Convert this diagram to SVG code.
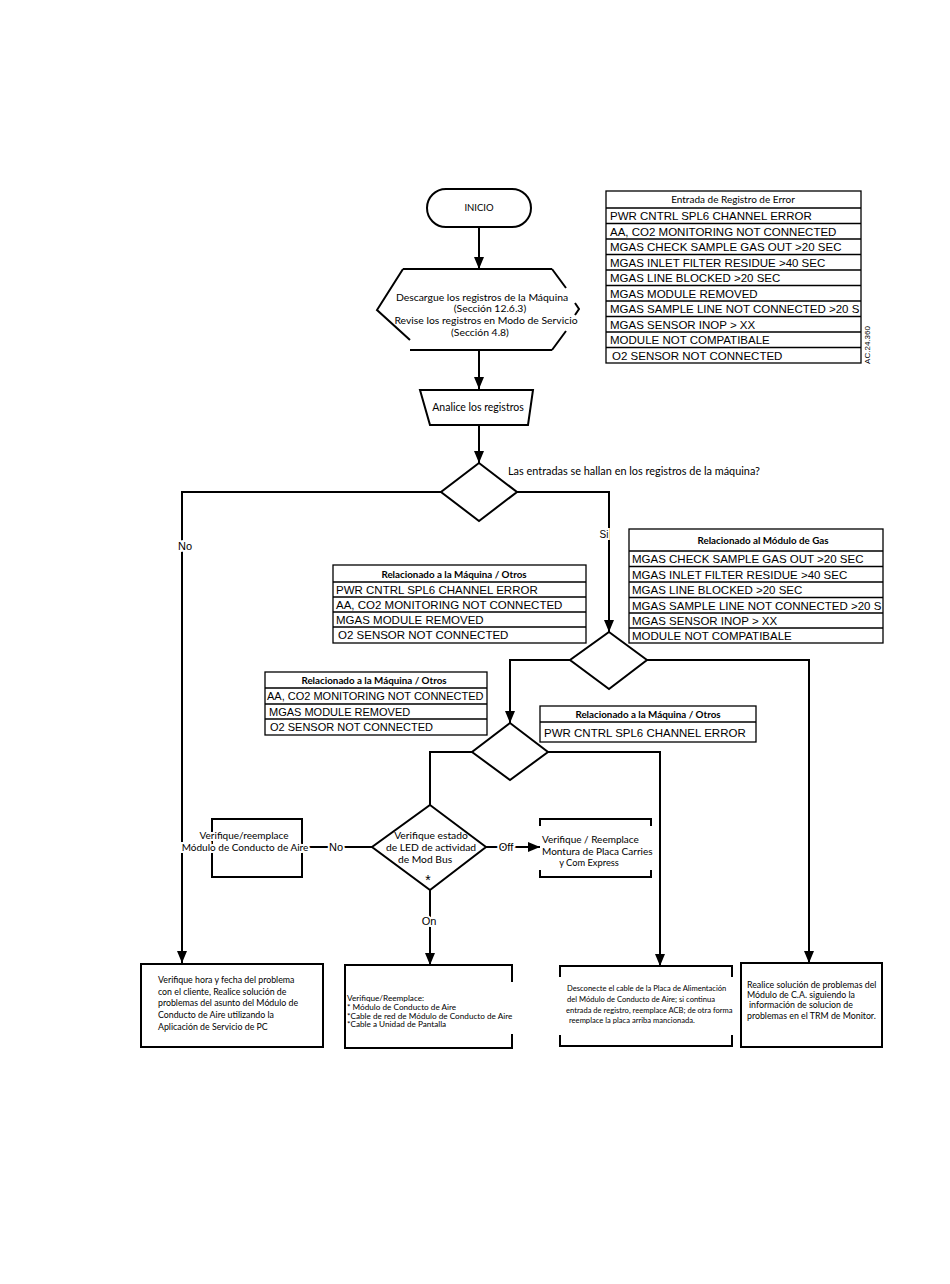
<svg xmlns="http://www.w3.org/2000/svg" width="950" height="1284" viewBox="0 0 950 1284">
<style>
.ln{fill:none;stroke:#000;stroke-width:2}
.bx{fill:#fff;stroke:#000;stroke-width:2}
.tb{fill:#fff;stroke:#000;stroke-width:1.3}
.rl{stroke:#000;stroke-width:1.3}
.c{font-family:Lato,"Liberation Sans",sans-serif;fill:#000}
.a{font-family:"Liberation Sans",Arial,sans-serif;fill:#000}
.t{font-family:"Liberation Sans",Arial,sans-serif;font-size:11.5px;fill:#000}
.t2{font-family:"Liberation Sans",Arial,sans-serif;font-size:11px;fill:#000}
.h{font-family:Lato,"Liberation Sans",sans-serif;font-size:9.8px;font-weight:bold;fill:#000;text-anchor:middle}
.halo{stroke:#fff;stroke-width:4;paint-order:stroke}
</style>
<defs>
<marker id="ar" markerUnits="userSpaceOnUse" markerWidth="12" markerHeight="10" refX="12" refY="5" orient="auto">
<path d="M0,0 L12,5 L0,10 z" fill="#000"/>
</marker>
</defs>
<rect width="950" height="1284" fill="#fff"/>

<g id="connectors">
<path class="ln" d="M479,227 V269" marker-end="url(#ar)"/>
<path class="ln" d="M479,350 V389" marker-end="url(#ar)"/>
<path class="ln" d="M479,425 V463" marker-end="url(#ar)"/>
<path class="ln" d="M441,492 H182 V963" marker-end="url(#ar)"/>
<path class="ln" d="M517,492 H609 V632" marker-end="url(#ar)"/>
<path class="ln" d="M570,660 H510 V723" marker-end="url(#ar)"/>
<path class="ln" d="M647,660 H809 V963" marker-end="url(#ar)"/>
<path class="ln" d="M472,752 H430 V805"/>
<path class="ln" d="M548,752 H660 V966" marker-end="url(#ar)"/>
<path class="ln" d="M372,847 H302"/>
<path class="ln" d="M486,847 H540" marker-end="url(#ar)"/>
<path class="ln" d="M430,890 V965" marker-end="url(#ar)"/>
<text class="a halo" x="185" y="550" font-size="11" text-anchor="middle">No</text>
<text class="a halo" x="604" y="538" font-size="10" text-anchor="middle">Si</text>
<text class="a halo" x="336" y="851" font-size="11" text-anchor="middle">No</text>
<text class="a halo" x="506" y="851" font-size="11" text-anchor="middle">Off</text>
<text class="a halo" x="429" y="925" font-size="11" text-anchor="middle">On</text>
</g>

<g id="inicio">
<rect class="bx" x="427" y="189" width="104" height="38" rx="19"/>
<text class="c" x="479" y="211" font-size="9.5" text-anchor="middle">INICIO</text>
</g>

<g id="descargue">
<path class="ln" d="M403,269 H552 M403,269 L377,310 L410,340 M410,350 H552 M552,269 L566,288 M575,303 L579,309 L575,315 M566,331 L552,350"/>
<text class="c" x="482" y="301" font-size="10.4" text-anchor="middle">Descargue los registros de la Máquina</text>
<text class="c" x="490" y="312" font-size="10.4" text-anchor="middle">(Sección 12.6.3)</text>
<text class="c" x="486" y="324" font-size="10.4" text-anchor="middle">Revise los registros en Modo de Servicio</text>
<text class="c" x="480" y="336" font-size="10.4" text-anchor="middle">(Sección 4.8)</text>
</g>

<g id="analice">
<polygon class="bx" points="420,390 533,390 528,425 430,425"/>
<text class="c" x="478" y="411" font-size="10.5" text-anchor="middle">Analice los registros</text>
</g>

<g id="decision1">
<polygon class="bx" points="479,463 517,492 479,521 441,492"/>
<text class="c" x="508" y="475" font-size="10.9">Las entradas se hallan en los registros de la máquina?</text>
</g>

<g id="tabla-error">
<rect class="tb" x="606" y="191" width="255" height="172"/>
<path class="rl" d="M606,208 H861 M606,223.5 H861 M606,239 H861 M606,254.5 H861 M606,270 H861 M606,285.5 H861 M606,301 H861 M606,316.5 H861 M606,332 H861 M606,347.5 H861"/>
<text class="c" x="733" y="203" font-size="10" text-anchor="middle">Entrada de Registro de Error</text>
<text class="t" x="610" y="220">PWR CNTRL SPL6 CHANNEL ERROR</text>
<text class="t" x="610" y="235.5">AA, CO2 MONITORING NOT CONNECTED</text>
<text class="t" x="610" y="251">MGAS CHECK SAMPLE GAS OUT &gt;20 SEC</text>
<text class="t" x="610" y="266.5">MGAS INLET FILTER RESIDUE &gt;40 SEC</text>
<text class="t" x="610" y="282">MGAS LINE BLOCKED &gt;20 SEC</text>
<text class="t" x="610" y="297.5">MGAS MODULE REMOVED</text>
<text class="t" x="610" y="313">MGAS SAMPLE LINE NOT CONNECTED &gt;20 S</text>
<text class="t" x="610" y="328.5">MGAS SENSOR INOP &gt; XX</text>
<text class="t" x="610" y="344">MODULE NOT COMPATIBALE</text>
<text class="t" x="612" y="359.5">O2 SENSOR NOT CONNECTED</text>
<text class="a" x="870" y="345" font-size="8" text-anchor="middle" transform="rotate(-90 870 345)">AC.24.360</text>
</g>

<g id="tabla-gas">
<rect class="tb" x="629" y="529" width="254" height="114"/>
<path class="rl" d="M629,551 H883 M629,566.5 H883 M629,582 H883 M629,597.5 H883 M629,613 H883 M629,628 H883"/>
<text class="h" x="763" y="544">Relacionado al Módulo de Gas</text>
<text class="t" x="632" y="563">MGAS CHECK SAMPLE GAS OUT &gt;20 SEC</text>
<text class="t" x="632" y="578.5">MGAS INLET FILTER RESIDUE &gt;40 SEC</text>
<text class="t" x="632" y="594">MGAS LINE BLOCKED &gt;20 SEC</text>
<text class="t" x="632" y="609.5">MGAS SAMPLE LINE NOT CONNECTED &gt;20 S</text>
<text class="t" x="632" y="625">MGAS SENSOR INOP &gt; XX</text>
<text class="t" x="632" y="640">MODULE NOT COMPATIBALE</text>
</g>

<g id="tabla-maquina-1">
<rect class="tb" x="333" y="565" width="253" height="78"/>
<path class="rl" d="M333,582 H586 M333,597 H586 M333,612 H586 M333,627 H586"/>
<text class="h" x="454" y="578">Relacionado a la Máquina / Otros</text>
<text class="t" x="336" y="594">PWR CNTRL SPL6 CHANNEL ERROR</text>
<text class="t" x="336" y="609">AA, CO2 MONITORING NOT CONNECTED</text>
<text class="t" x="336" y="624">MGAS MODULE REMOVED</text>
<text class="t" x="338" y="639">O2 SENSOR NOT CONNECTED</text>
</g>

<g id="decision2">
<polygon class="bx" points="609,632 647,660 609,689 570,660"/>
</g>

<g id="tabla-maquina-2">
<rect class="tb" x="265" y="672" width="222" height="63"/>
<path class="rl" d="M265,688 H487 M265,704 H487 M265,719 H487"/>
<text class="h" x="374" y="684">Relacionado a la Máquina / Otros</text>
<text class="t2" x="267" y="700">AA, CO2 MONITORING NOT CONNECTED</text>
<text class="t2" x="269" y="715.5">MGAS MODULE REMOVED</text>
<text class="t2" x="270" y="731">O2 SENSOR NOT CONNECTED</text>
</g>

<g id="tabla-maquina-3">
<rect class="tb" x="540" y="706" width="216" height="36"/>
<path class="rl" d="M540,722 H756"/>
<text class="h" x="648" y="718">Relacionado a la Máquina / Otros</text>
<text class="t" x="544" y="737">PWR CNTRL SPL6 CHANNEL ERROR</text>
</g>

<g id="decision3">
<polygon class="bx" points="510,723 548,752 510,780 472,752"/>
</g>

<g id="decision4">
<polygon class="bx" points="430,805 486,847 430,890 372,847"/>
<text class="c" x="431" y="839" font-size="10.3" text-anchor="middle">Verifique estado</text>
<text class="c" x="431" y="851" font-size="10.3" text-anchor="middle">de LED de actividad</text>
<text class="c" x="425" y="863" font-size="10.3" text-anchor="middle">de Mod Bus</text>
<text class="a" x="428" y="885" font-size="14" text-anchor="middle">*</text>
</g>

<g id="verifique-modulo">
<rect class="bx" x="212" y="819" width="90" height="58"/>
<text class="c halo" x="244" y="839" font-size="10" text-anchor="middle">Verifique/reemplace</text>
<text class="c halo" x="245" y="851" font-size="10" text-anchor="middle">Módulo de Conducto de Aire</text>
</g>

<g id="verifique-montura">
<path class="ln" d="M540,826 V819 H651 V826 M540,870 V877 H651 V870"/>
<text class="c" x="542" y="843" font-size="10">Verifique / Reemplace</text>
<text class="c" x="542" y="855" font-size="10">Montura de Placa Carries</text>
<text class="c" x="589" y="866" font-size="9.3" text-anchor="middle">y Com Express</text>
</g>

<g id="caja-hora">
<rect class="bx" x="141" y="964" width="182" height="83"/>
<text class="c" x="158" y="983" font-size="8.8">Verifique hora y fecha del problema</text>
<text class="c" x="158" y="995" font-size="8.8">con el cliente, Realice solución de</text>
<text class="c" x="158" y="1006" font-size="8.8">problemas del asunto del Módulo de</text>
<text class="c" x="158" y="1018" font-size="8.8">Conducto de Aire utilizando la</text>
<text class="c" x="158" y="1030" font-size="8.8">Aplicación de Servicio de PC</text>
</g>

<g id="caja-reemplace">
<path class="ln" d="M512,982 V965 H345 V1048 H512 V1034"/>
<text class="c" x="347" y="1001" font-size="8.2">Verifique/Reemplace:</text>
<text class="c" x="347" y="1010" font-size="8.2">* Módulo de Conducto de Aire</text>
<text class="c" x="347" y="1019" font-size="8.2">*Cable de red de Módulo de Conducto de Aire</text>
<text class="c" x="347" y="1027" font-size="8.2">*Cable a Unidad de Pantalla</text>
</g>

<g id="caja-desconecte">
<path class="ln" d="M560,977 V966 H732 V977 M560,1035 V1046 H732 V1035"/>
<text class="c" x="567" y="991" font-size="7.6">Desconecte el cable de la Placa de Alimentación</text>
<text class="c" x="567" y="1002" font-size="7.6">del Módulo de Conducto de Aire; si continua</text>
<text class="c" x="566" y="1013" font-size="7.6">entrada de registro, reemplace ACB; de otra forma</text>
<text class="c" x="569" y="1023" font-size="7.6">reemplace la placa arriba mancionada.</text>
</g>

<g id="caja-ca">
<rect class="bx" x="741" y="963" width="141" height="84"/>
<text class="c" x="747" y="988" font-size="8.8">Realice solución de problemas del</text>
<text class="c" x="747" y="998" font-size="8.8">Módulo de C.A. siguiendo la</text>
<text class="c" x="749" y="1008" font-size="8.8">información de solucion de</text>
<text class="c" x="747" y="1019" font-size="8.8">problemas en el TRM de Monitor.</text>
</g>
</svg>
